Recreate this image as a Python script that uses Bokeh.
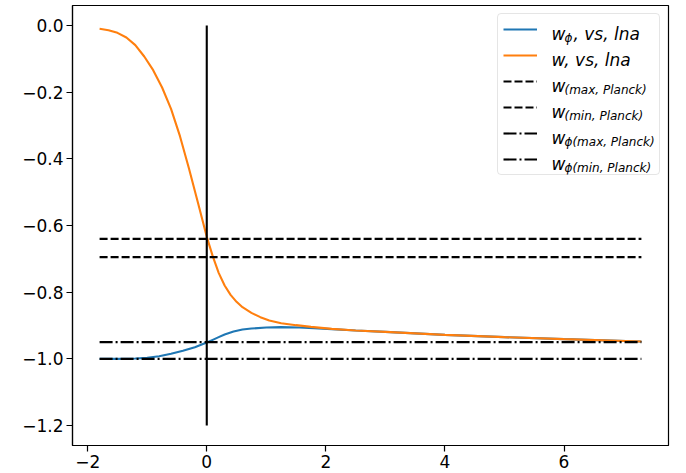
from bokeh.plotting import figure
from bokeh.models import Range1d, FixedTicker, Legend, LegendItem, Label
from bokeh.embed import file_html
from bokeh.resources import INLINE

# ---- data ----
lna = [-1.8, -1.65, -1.5, -1.35, -1.2, -1.05, -0.9, -0.75, -0.6, -0.45, -0.3, -0.15, 0.0,
       0.1, 0.2, 0.3, 0.4, 0.5, 0.6, 0.75, 0.9, 1.05, 1.25, 1.5, 1.75, 2.1, 2.5, 3.0, 4.0,
       5.0, 6.0, 7.3]
w = [-0.010, -0.014, -0.022, -0.036, -0.059, -0.093, -0.134, -0.186, -0.250, -0.332,
     -0.428, -0.530, -0.634, -0.692, -0.742, -0.780, -0.808, -0.829, -0.845, -0.862,
     -0.875, -0.885, -0.893, -0.899, -0.904, -0.910, -0.915, -0.919, -0.928, -0.935,
     -0.941, -0.948]

lna_phi = [-1.8, -1.5, -1.2, -1.0, -0.8, -0.6, -0.4, -0.2, 0.0, 0.1, 0.2, 0.3, 0.45, 0.6,
           0.75, 1.0, 1.25, 1.55, 1.8, 2.1, 2.5, 3.0, 4.0, 5.0, 6.0, 7.3]
w_phi = [-1.0, -1.0, -0.999, -0.997, -0.992, -0.985, -0.976, -0.965, -0.951, -0.943,
         -0.935, -0.927, -0.918, -0.912, -0.909, -0.906, -0.905, -0.906, -0.908, -0.911,
         -0.915, -0.919, -0.928, -0.935, -0.941, -0.948]

w_max_planck = -0.64
w_min_planck = -0.695
wphi_max_planck = -0.95
wphi_min_planck = -1.0

today_x = [0.0, 0.0]
today_y = [0.0, -1.2]

x_ticks = [-2, 0, 2, 4, 6]
x_tick_labels = ["\u22122", "0", "2", "4", "6"]
y_ticks = [0.0, -0.2, -0.4, -0.6, -0.8, -1.0, -1.2]
y_tick_labels = ["0.0", "\u22120.2", "\u22120.4", "\u22120.6", "\u22120.8", "\u22121.0", "\u22121.2"]

legend_main = ["w", "w, vs, lna", "w", "w", "w", "w"]
legend_sub = ["\u03d5", "", "(max, Planck)", "(min, Planck)", "\u03d5(max, Planck)", "\u03d5(min, Planck)"]
legend_tail = [", vs, lna", "", "", "", "", ""]

# ---- layout ----
W, H = 686, 473
BL, BR, BT, BB = 72, 18, 5, 28
FW, FH = W - BL - BR, H - BT - BB

span_x = lna[-1] - lna[0]
span_y = today_y[0] - today_y[1]

p = figure(width=W, height=H, output_backend="svg", toolbar_location=None,
           x_range=Range1d(lna[0] - 0.05 * span_x, lna[-1] + 0.05 * span_x),
           y_range=Range1d(today_y[1] - 0.05 * span_y, today_y[0] + 0.05 * span_y),
           min_border_left=BL, min_border_right=BR, min_border_top=BT, min_border_bottom=BB)
p.grid.visible = False
p.outline_line_color = "black"
p.outline_line_width = 1.2
p.background_fill_color = "white"
p.border_fill_color = "white"

for ax in (p.xaxis[0], p.yaxis[0]):
    ax.axis_line_color = "black"
    ax.axis_line_width = 1.2
    ax.major_tick_line_color = "black"
    ax.major_tick_line_width = 1.2
    ax.major_tick_out = 6
    ax.major_tick_in = 0
    ax.minor_tick_line_color = None
    ax.major_label_text_font = "DejaVu Sans"
    ax.major_label_text_font_size = "17px"
    ax.major_label_text_color = "black"
    ax.major_label_standoff = 3
p.xaxis[0].ticker = FixedTicker(ticks=x_ticks)
p.xaxis[0].major_label_overrides = {t: l for t, l in zip(x_ticks, x_tick_labels)}
p.yaxis[0].ticker = FixedTicker(ticks=y_ticks)
p.yaxis[0].major_label_overrides = {t: l for t, l in zip(y_ticks, y_tick_labels)}

BLUE, ORANGE = "#1f77b4", "#ff7f0e"
LWID = 2.1
r_phi = p.line(lna_phi, w_phi, line_color=BLUE, line_width=LWID)
r_w = p.line(lna, w, line_color=ORANGE, line_width=LWID)
xs = [lna[0], lna[-1]]
r1 = p.line(xs, [w_max_planck] * 2, line_color="black", line_width=LWID, line_dash="8 3")
r2 = p.line(xs, [w_min_planck] * 2, line_color="black", line_width=LWID, line_dash="8 3")
r3 = p.line(xs, [wphi_max_planck] * 2, line_color="black", line_width=LWID, line_dash="13 3 2 3")
r4 = p.line(xs, [wphi_min_planck] * 2, line_color="black", line_width=LWID, line_dash="13 3 2 3")
p.line(today_x, today_y, line_color="black", line_width=LWID)

PAD, GW, GH, STAND, LBW, MARG, SP = 5, 34, 20, 13, 104, 8, 6
legend = Legend(items=[LegendItem(label=" ", renderers=[r]) for r in (r_phi, r_w, r1, r2, r3, r4)],
                location="top_right", margin=MARG, padding=PAD, spacing=SP,
                glyph_width=GW, glyph_height=GH, label_height=GH, label_width=LBW,
                label_standoff=STAND, border_line_color="#cccccc", border_line_width=1.2,
                background_fill_alpha=0.0, label_text_font_size="14px")
if "border_radius" in Legend.properties():
    legend.border_radius = 4
p.add_layout(legend)

box_w = 2 * PAD + GW + STAND + LBW
tx = FW - MARG - box_w + PAD + GW + STAND
for i in range(6):
    base = FH - (MARG + PAD + GH / 2 + 5 + i * (GH + SP))
    common = dict(x_units="screen", y_units="screen", text_font="DejaVu Sans",
                  text_font_style="italic", text_baseline="alphabetic", text_color="black",
                  level="overlay")
    p.add_layout(Label(x=tx, y=base, text=legend_main[i], text_font_size="17px", **common))
    if legend_sub[i]:
        p.add_layout(Label(x=tx + 13, y=base - 4, text=legend_sub[i], text_font_size="12px", **common))
    if legend_tail[i]:
        p.add_layout(Label(x=tx + 22, y=base, text=legend_tail[i], text_font_size="17px", **common))

open("out.html", "w").write(file_html(p, INLINE))
